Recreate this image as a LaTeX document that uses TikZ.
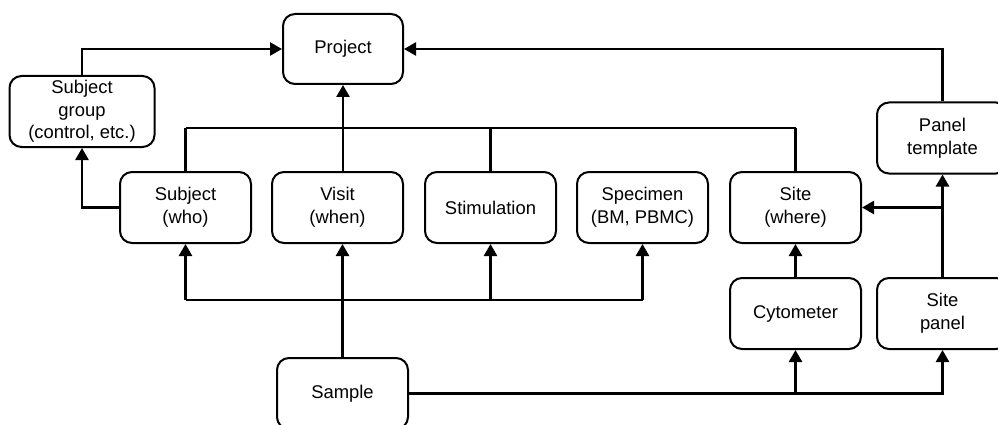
\documentclass[tikz,border=0pt]{standalone}
\usepackage{fontspec}
\setmainfont{Liberation Sans}
\usetikzlibrary{arrows.meta}
\begin{document}
\begin{tikzpicture}[x=1pt,y=-1pt,
  entity/.style={draw, line width=2pt, rounded corners=12pt, fill=white,
    minimum width=131pt, minimum height=71pt, align=center, inner sep=2pt,
    font=\fontsize{18.4}{22.6}\selectfont},
  link/.style={line width=2.5pt, -{Triangle[length=12pt,width=13pt]}},
  wire/.style={line width=2.5pt}]
\useasboundingbox (0,0) rectangle (998,425);
\clip (0,0) rectangle (998,425);

% entities
\node[entity, minimum width=120pt, minimum height=70pt] (project) at (343,49) {Project};
\node[entity, minimum width=145pt] (sgroup) at (82,111.5) {Subject\\group\\(control, etc.)};
\node[entity] (subject) at (185.5,207.5) {Subject\\(who)};
\node[entity] (visit) at (337.5,207.5) {Visit\\(when)};
\node[entity] (stim) at (490.5,207.5) {Stimulation};
\node[entity] (specimen) at (642.5,207.5) {Specimen\\(BM, PBMC)};
\node[entity] (site) at (795.5,207.5) {Site\\(where)};
\node[entity] (ptemplate) at (942.5,138) {Panel\\template};
\node[entity] (cytometer) at (795.5,313.5) {Cytometer};
\node[entity] (spanel) at (942.5,313.5) {Site\\panel};
\node[entity] (sample) at (342.5,393.5) {Sample};

% bus levels
\coordinate (topbus) at (0,128);
\coordinate (lowbus) at (0,300);
\coordinate (branch) at (ptemplate.south |- site.east);

% links into Project
\draw[link] (sgroup.north) |- (project.west);
\draw[link] (ptemplate.north) |- (project.east);
\draw[link] (project.south |- visit.north) -- (project.south);
\draw[wire] (subject.north |- topbus) -- (site.north |- topbus);
\draw[wire] (subject.north) -- (subject.north |- topbus);
\draw[wire] (stim.north) -- (stim.north |- topbus);
\draw[wire] (site.north) -- (site.north |- topbus);

% subject to its group
\draw[link] (subject.west) -| (sgroup.south);

% links from Sample
\draw[link] (sample.north) -- (sample.north |- visit.south);
\draw[wire] (subject.south |- lowbus) -- (specimen.south |- lowbus);
\draw[link] (subject.south |- lowbus) -- (subject.south);
\draw[link] (stim.south |- lowbus) -- (stim.south);
\draw[link] (specimen.south |- lowbus) -- (specimen.south);
\draw[link] (sample.east) -| (cytometer.south);
\draw[link] (sample.east) -| (spanel.south);

% site side
\draw[link] (cytometer.north) -- (site.south);
\draw[link] (spanel.north) -- (ptemplate.south);
\draw[link] (branch) -- (site.east);
\end{tikzpicture}
\end{document}
